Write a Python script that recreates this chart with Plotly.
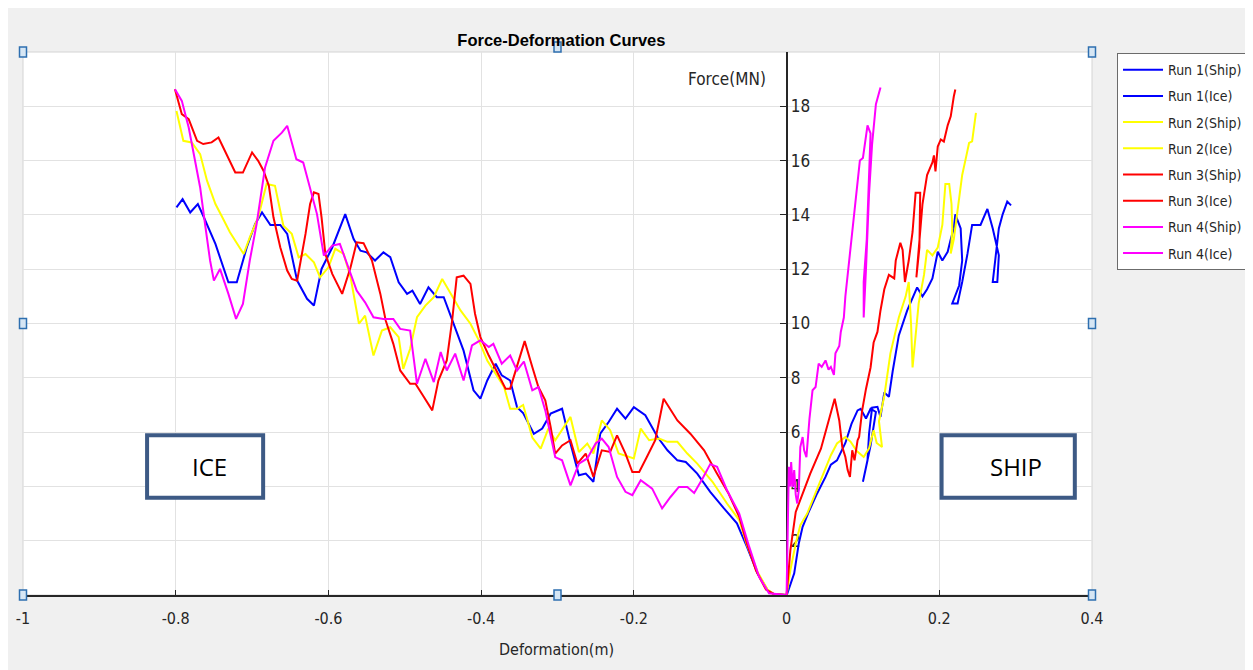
import plotly.graph_objects as go

# Deformation (m) / force (MN), one pair of lists per curve
run1_ice_x = [-0.799, -0.791, -0.781, -0.771, -0.764, -0.748, -0.731, -0.720, -0.707, -0.696,
              -0.687, -0.676, -0.663, -0.654, -0.641, -0.628, -0.619, -0.609, -0.595, -0.578,
              -0.567, -0.558, -0.550, -0.539, -0.528, -0.519, -0.508, -0.497, -0.490, -0.480,
              -0.469, -0.458, -0.449, -0.438, -0.423, -0.410, -0.401, -0.392, -0.381, -0.373,
              -0.362, -0.353, -0.345, -0.331, -0.320, -0.309, -0.294, -0.283, -0.272, -0.263,
              -0.253, -0.244, -0.233, -0.222, -0.211, -0.200, -0.185, -0.169, -0.156, -0.143,
              -0.132, -0.117, -0.100, -0.082, -0.065, -0.052, -0.038, -0.025, -0.017, 0.0]
run1_ice_y = [14.28, 14.58, 14.09, 14.4, 13.97, 12.93, 11.52, 11.52, 12.8, 13.67,
              14.09, 13.63, 13.63, 13.3, 11.58, 10.91, 10.66, 12.01, 12.8, 14.03,
              13.11, 12.68, 12.62, 12.32, 12.62, 12.44, 11.52, 11.09, 11.21, 10.72,
              11.33, 10.97, 10.97, 10.11, 9.0, 7.54, 7.23, 7.9, 8.52, 8.09,
              7.9, 6.92, 6.7, 5.94, 6.13, 6.68, 6.86, 5.58, 4.41, 4.47,
              4.17, 5.94, 6.37, 6.86, 6.5, 6.92, 6.62, 5.82, 5.33, 4.96,
              4.9, 4.47, 3.8, 3.19, 2.64, 1.78, 0.8, 0.18, 0.04, 0.0]

run2_ice_x = [-0.799, -0.790, -0.779, -0.768, -0.759, -0.748, -0.740, -0.729, -0.711, -0.703,
              -0.692, -0.681, -0.670, -0.659, -0.648, -0.639, -0.630, -0.619, -0.611, -0.600,
              -0.591, -0.580, -0.571, -0.560, -0.552, -0.541, -0.530, -0.519, -0.508, -0.502,
              -0.493, -0.484, -0.473, -0.462, -0.451, -0.440, -0.427, -0.414, -0.403, -0.392,
              -0.379, -0.370, -0.362, -0.353, -0.345, -0.333, -0.322, -0.312, -0.303, -0.283,
              -0.272, -0.261, -0.253, -0.242, -0.231, -0.220, -0.200, -0.191, -0.180, -0.167,
              -0.156, -0.143, -0.130, -0.117, -0.097, -0.078, -0.062, -0.052, -0.038, -0.025,
              -0.017, 0.0]
run2_ice_y = [17.83, 16.73, 16.67, 16.24, 15.26, 14.4, 13.97, 13.36, 12.56, 13.17,
              13.91, 15.14, 15.07, 13.6, 13.3, 12.44, 12.56, 12.25, 11.7, 12.07,
              12.75, 12.56, 11.7, 9.99, 10.29, 8.82, 9.74, 9.86, 9.5, 8.33,
              9.07, 10.23, 10.66, 10.97, 11.64, 11.09, 10.48, 9.99, 9.38, 8.64,
              8.03, 7.66, 6.86, 6.86, 7.0, 5.8, 5.39, 6.13, 5.7, 6.56,
              5.27, 5.58, 5.21, 6.43, 6.07, 5.21, 5.03, 6.13, 5.7, 5.76,
              5.64, 5.64, 5.21, 4.84, 4.17, 3.37, 2.76, 1.85, 0.85, 0.2,
              0.04, 0.0]

run3_ice_x = [-0.801, -0.792, -0.783, -0.772, -0.764, -0.753, -0.744, -0.733, -0.722, -0.712,
              -0.700, -0.692, -0.685, -0.678, -0.672, -0.663, -0.654, -0.648, -0.641, -0.630,
              -0.624, -0.619, -0.613, -0.609, -0.604, -0.595, -0.582, -0.571, -0.563, -0.554,
              -0.543, -0.532, -0.525, -0.515, -0.506, -0.493, -0.486, -0.475, -0.464, -0.456,
              -0.445, -0.438, -0.432, -0.423, -0.414, -0.408, -0.401, -0.390, -0.379, -0.368,
              -0.362, -0.353, -0.343, -0.333, -0.325, -0.316, -0.309, -0.303, -0.294, -0.283,
              -0.274, -0.263, -0.253, -0.242, -0.231, -0.222, -0.211, -0.202, -0.193, -0.183,
              -0.172, -0.161, -0.143, -0.126, -0.108, -0.091, -0.076, -0.062, -0.052, -0.040,
              -0.027, -0.017, 0.0]
run3_ice_y = [18.63, 17.71, 17.53, 16.73, 16.61, 16.67, 16.85, 16.18, 15.56, 15.56,
              16.3, 15.99, 15.63, 15.07, 13.91, 12.8, 11.95, 11.64, 11.58, 13.3,
              14.4, 14.83, 14.77, 13.91, 12.56, 11.83, 11.09, 12.07, 12.99, 12.96,
              12.32, 11.09, 10.11, 9.25, 8.27, 7.78, 7.78, 7.29, 6.8, 7.9,
              8.64, 10.11, 11.7, 11.76, 11.46, 10.36, 9.5, 8.82, 8.21, 7.6,
              7.6, 8.4, 9.35, 8.4, 7.66, 7.17, 6.19, 5.21, 5.51, 5.7,
              4.84, 5.21, 4.35, 5.33, 5.27, 5.88, 5.21, 4.53, 4.53, 5.08,
              5.7, 7.23, 6.43, 5.94, 5.33, 4.47, 3.74, 2.88, 1.9, 0.9,
              0.2, 0.04, 0.0]

run4_ice_x = [-0.801, -0.792, -0.783, -0.777, -0.768, -0.761, -0.755, -0.750, -0.742, -0.731,
              -0.721, -0.712, -0.703, -0.694, -0.683, -0.672, -0.661, -0.654, -0.642, -0.633,
              -0.624, -0.615, -0.606, -0.595, -0.585, -0.574, -0.563, -0.552, -0.541, -0.528,
              -0.515, -0.506, -0.493, -0.484, -0.473, -0.462, -0.453, -0.445, -0.434, -0.423,
              -0.412, -0.401, -0.390, -0.384, -0.373, -0.362, -0.353, -0.344, -0.333, -0.325,
              -0.316, -0.303, -0.294, -0.283, -0.272, -0.261, -0.250, -0.242, -0.233, -0.222,
              -0.211, -0.202, -0.191, -0.176, -0.163, -0.152, -0.141, -0.130, -0.121, -0.110,
              -0.100, -0.091, -0.078, -0.062, -0.049, -0.036, -0.023, -0.001]
run4_ice_y = [18.63, 18.2, 17.22, 16.36, 15.01, 13.54, 12.32, 11.58, 12.01, 11.09,
              10.17, 10.72, 12.32, 13.67, 15.75, 16.73, 17.03, 17.28, 16.05, 15.93,
              14.95, 14.03, 12.5, 12.87, 12.93, 12.07, 11.21, 10.78, 10.23, 10.17,
              10.17, 9.8, 9.74, 7.78, 8.7, 7.84, 8.95, 8.27, 8.89, 7.9,
              9.19, 9.38, 9.13, 9.25, 8.52, 8.82, 8.27, 8.6, 7.54, 7.66,
              6.8, 5.08, 4.96, 4.04, 4.84, 5.03, 5.58, 5.76, 5.45, 4.35,
              3.8, 3.68, 4.23, 3.92, 3.19, 3.61, 3.98, 3.98, 3.76, 4.29,
              4.82, 4.72, 3.86, 3.0, 1.78, 0.67, 0.06, 0.0]

run1_ship_x = [0.0, 0.001, 0.010, 0.016, 0.021, 0.029, 0.040, 0.051, 0.058, 0.066,
               0.077, 0.085, 0.093, 0.097, 0.104, 0.110, 0.117, 0.110, 0.100, 0.106,
               0.108, 0.112, 0.119, 0.123, 0.128, 0.134, 0.139, 0.147, 0.158, 0.165,
               0.171, 0.178, 0.184, 0.191, 0.198, 0.204, 0.211, 0.215, 0.219, 0.221,
               0.228, 0.230, 0.226, 0.217, 0.224, 0.230, 0.237, 0.243, 0.254, 0.263,
               0.270, 0.278, 0.276, 0.270, 0.274, 0.278, 0.283, 0.289, 0.294]
run1_ship_y = [0.0, 0.06, 0.8, 1.9, 2.51, 3.06, 3.74, 4.35, 4.8, 4.96,
               5.6, 6.3, 6.8, 6.86, 6.5, 6.86, 6.74, 5.5, 4.17, 4.96,
               5.94, 6.9, 6.93, 6.56, 7.46, 7.3, 8.25, 9.56, 10.48, 10.94,
               11.33, 11.0, 11.26, 11.66, 12.64, 12.32, 12.64, 13.1, 13.5, 14.02,
               13.5, 12.32, 11.4, 10.74, 10.74, 11.53, 12.58, 13.63, 13.63, 14.22,
               13.5, 12.51, 11.53, 11.53, 12.5, 13.5, 14.02, 14.49, 14.35]

run2_ship_x = [0.0, 0.005, 0.012, 0.018, 0.027, 0.036, 0.047, 0.058, 0.066, 0.077,
               0.084, 0.092, 0.101, 0.108, 0.114, 0.118, 0.125, 0.121, 0.128, 0.136,
               0.147, 0.156, 0.160, 0.163, 0.165, 0.169, 0.173, 0.180, 0.184, 0.191,
               0.198, 0.204, 0.206, 0.208, 0.213, 0.216, 0.217, 0.215, 0.219, 0.224,
               0.230, 0.235, 0.239, 0.243, 0.245, 0.248]
run2_ship_y = [0.0, 0.92, 1.9, 2.57, 3.0, 3.61, 4.35, 5.15, 5.58, 5.82,
               5.64, 5.3, 5.08, 5.4, 6.07, 5.6, 5.45, 6.4, 7.33, 8.9,
               10.22, 11.0, 11.53, 10.0, 8.38, 9.56, 10.74, 11.79, 12.71, 12.51,
               12.8, 13.63, 14.41, 15.14, 15.14, 14.41, 13.5, 12.58, 13.1, 14.15,
               15.47, 16.12, 16.65, 16.71, 17.17, 17.76]

run3_ship_x = [0.0, 0.005, 0.012, 0.018, 0.031, 0.045, 0.055, 0.063, 0.069, 0.073,
               0.077, 0.080, 0.083, 0.086, 0.089, 0.093, 0.095, 0.099, 0.104, 0.110,
               0.114, 0.119, 0.123, 0.128, 0.134, 0.141, 0.143, 0.149, 0.152, 0.155,
               0.160, 0.165, 0.169, 0.175, 0.174, 0.170, 0.178, 0.184, 0.191, 0.193,
               0.195, 0.198, 0.202, 0.206, 0.211, 0.215, 0.219, 0.221]
run3_ship_y = [0.0, 1.65, 3.06, 3.49, 4.47, 5.39, 6.37, 7.23, 6.43, 5.45,
               5.08, 4.6, 4.35, 5.33, 4.96, 5.7, 5.82, 6.8, 7.59, 8.38,
               9.3, 9.69, 10.48, 11.26, 11.79, 11.66, 12.32, 12.97, 12.71, 11.53,
               12.32, 13.37, 14.82, 14.82, 12.8, 11.7, 14.4, 15.47, 15.93, 16.19,
               15.6, 16.52, 16.78, 16.7, 17.3, 17.63, 18.36, 18.62]

run4_ship_x = [0.0, 0.001, 0.002, 0.003, 0.005, 0.006, 0.008, 0.010, 0.012, 0.014,
               0.016, 0.018, 0.021, 0.023, 0.026, 0.030, 0.034, 0.038, 0.042, 0.046,
               0.051, 0.055, 0.058, 0.062, 0.064, 0.069, 0.071, 0.075, 0.077, 0.082,
               0.084, 0.088, 0.093, 0.096, 0.100, 0.106, 0.110, 0.108, 0.105, 0.101,
               0.101, 0.104, 0.108, 0.112, 0.117, 0.123]
run4_ship_y = [0.0, 1.5, 3.0, 4.72, 4.0, 4.9, 3.98, 4.6, 3.7, 3.37,
               3.86, 5.45, 5.82, 5.33, 5.08, 6.5, 7.54, 7.66, 8.52, 8.4,
               8.64, 8.3, 8.4, 8.11, 8.9, 9.17, 9.69, 10.22, 11.0, 12.32,
               12.84, 14.02, 15.33, 16.0, 16.1, 17.3, 17.0, 15.07, 13.1, 11.53,
               10.22, 12.0, 14.77, 16.6, 18.08, 18.69]

series_names = ["Run 1(Ship)", "Run 1(Ice)", "Run 2(Ship)", "Run 2(Ice)",
                "Run 3(Ship)", "Run 3(Ice)", "Run 4(Ship)", "Run 4(Ice)"]
series_x = [run1_ship_x, run1_ice_x, run2_ship_x, run2_ice_x,
            run3_ship_x, run3_ice_x, run4_ship_x, run4_ice_x]
series_y = [run1_ship_y, run1_ice_y, run2_ship_y, run2_ice_y,
            run3_ship_y, run3_ice_y, run4_ship_y, run4_ice_y]
series_colors = ["#0000ff", "#0000ff", "#ffff00", "#ffff00",
                 "#ff0000", "#ff0000", "#ff00ff", "#ff00ff"]

x_ticks = [-1, -0.8, -0.6, -0.4, -0.2, 0, 0.2, 0.4]
x_tick_labels = ["-1", "-0.8", "-0.6", "-0.4", "-0.2", "0", "0.2", "0.4"]
y_ticks = [2, 4, 6, 8, 10, 12, 14, 16, 18]

narrow = "DejaVu Sans Condensed, Liberation Sans, Arial"
ink = "#262626"
grid = "#e2e2e2"

fig = go.Figure()
for name, xs, ys, col in zip(series_names, series_x, series_y, series_colors):
    fig.add_trace(go.Scatter(x=xs, y=ys, mode="lines", name=name,
                             legendgroup=name,
                             line=dict(color=col, width=2)))

# plot-area frame (MATLAB draws a light box round the axes)
fig.add_shape(type="rect", xref="x domain", yref="y domain", x0=0, x1=1, y0=0, y1=1,
              line=dict(color="#d4d4d4", width=1), layer="below")

# ICE / SHIP labels in boxes
for label, x0, x1, xt in [("ICE", -0.8375, -0.6855, -0.756), ("SHIP", 0.203, 0.3775, 0.300)]:
    fig.add_shape(type="rect", x0=x0, x1=x1, y0=3.58, y1=5.88,
                  fillcolor="white", line=dict(color="#3d5a85", width=4))
    fig.add_annotation(x=xt, y=4.73, text=label, showarrow=False,
                       font=dict(family="Open Sans, Noto Sans, Arial", size=24, color="black"))

# selection handles round the axes
handles = [(0, 1), (0.5, 1.009), (1, 1), (0, 0.5), (1, 0.5), (0, 0), (0.5, 0), (1, 0)]
for hx, hy in handles:
    fig.add_shape(type="rect", xref="x domain", yref="y domain",
                  xsizemode="pixel", ysizemode="pixel", xanchor=hx, yanchor=hy,
                  x0=-3.5, x1=3.5, y0=-5, y1=5,
                  fillcolor="#d6e6f4", line=dict(color="#2e6fb0", width=1.5))

fig.add_annotation(x=-0.024, y=19.0, text="Force(MN)", showarrow=False,
                   xanchor="right", yanchor="middle",
                   font=dict(family=narrow, size=17, color=ink))
fig.add_annotation(x=0.4995, y=-0.101, xref="paper", yref="paper", text="Deformation(m)",
                   showarrow=False, yanchor="middle",
                   font=dict(family=narrow, size=16, color=ink))

fig.update_xaxes(range=[-1, 0.4], tickvals=x_ticks, ticktext=x_tick_labels,
                 showgrid=True, gridcolor=grid, gridwidth=1, zeroline=False,
                 showline=True, linecolor=ink, linewidth=1.5,
                 ticks="inside", ticklen=5, tickcolor=ink, ticklabelstandoff=8,
                 tickfont=dict(family=narrow, size=16, color=ink),
                 layer="below traces")
fig.update_yaxes(range=[0, 20], tickvals=y_ticks,
                 showgrid=True, gridcolor=grid, gridwidth=1, zeroline=False,
                 anchor="free", position=1 / 1.4, side="right",
                 showline=True, linecolor=ink, linewidth=1.5,
                 ticks="inside", ticklen=6, tickcolor=ink,
                 tickfont=dict(family=narrow, size=17, color=ink),
                 layer="below traces")

# the page body adds an 8px margin, so the figure is sized to fill the rest of the window
fig.update_layout(
    title=dict(text="<b>Force-Deformation Curves</b>", x=0.4445, xanchor="center",
               y=0.952, yanchor="middle",
               font=dict(family="Liberation Sans, Arial", size=16.5, color="black")),
    width=1245, height=662, autosize=False,
    margin=dict(l=15, r=161, t=44, b=75, autoexpand=False),
    paper_bgcolor="#f0f0f0", plot_bgcolor="white",
    showlegend=True,
    legend=dict(x=1.0234, y=0.998, xanchor="left", yanchor="top",
                bgcolor="white", bordercolor="#6b6b6b", borderwidth=1,
                tracegroupgap=5, itemwidth=40,
                font=dict(family=narrow, size=14, color=ink)),
)

fig.write_html("out.html")
